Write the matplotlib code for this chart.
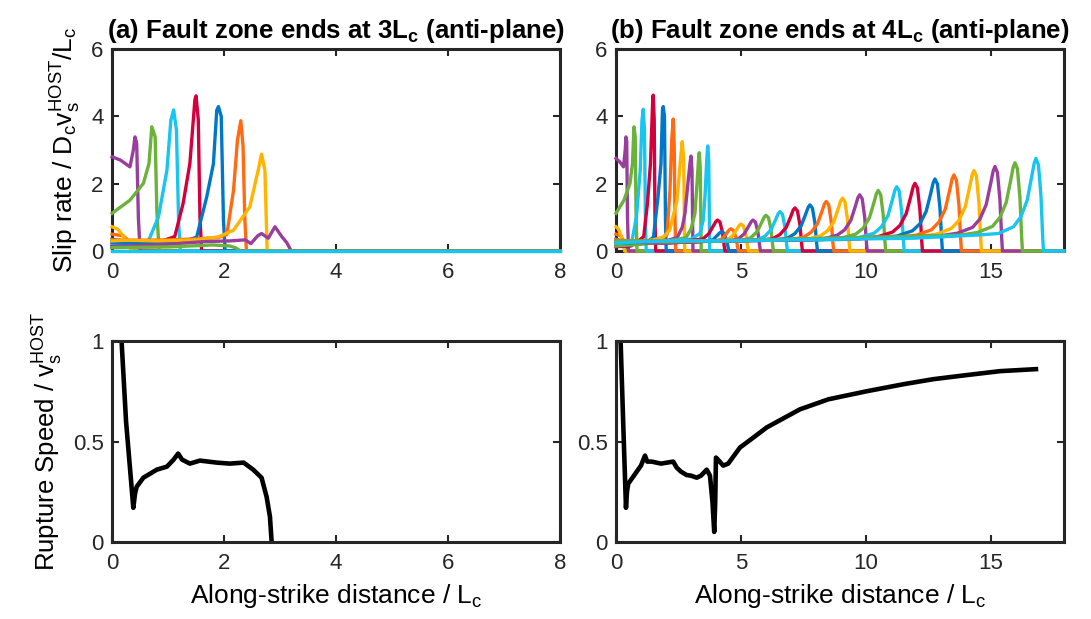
import matplotlib
matplotlib.use("Agg")
import matplotlib.pyplot as plt

plt.rcParams['font.family'] = ['Liberation Sans', 'DejaVu Sans']
plt.rcParams['mathtext.fontset'] = 'custom'
plt.rcParams['mathtext.rm'] = 'Liberation Sans'
plt.rcParams['mathtext.bf'] = 'Liberation Sans:bold'

# MATLAB-like colour order, as seen in the picture
blue, orange, yellow, purple = '#0077C8', '#FF6A13', '#FFB400', '#9A3E9E'
green, cyan, red = '#6AB23A', '#18C4F0', '#D4003C'

# ---- (a) slip-rate snapshots, fault zone ends at 3Lc ----
left_colors = [blue, orange, yellow, purple, green, cyan, red,
               blue, orange, yellow, purple, green, cyan]
left_x = [
    [0, 0.2, 0.35, 0.4, 8],
    [0, 0.2, 0.3, 0.35, 8],
    [0, 0.1, 0.2, 0.3, 0.35, 8],
    [0, 0.15, 0.32, 0.38, 0.41, 0.44, 0.47, 0.5, 8],
    [0, 0.32, 0.56, 0.66, 0.71, 0.77, 0.8, 0.84, 8],
    [0, 0.4, 0.65, 0.83, 0.98, 1.05, 1.10, 1.15, 1.19, 1.22, 8],
    [0, 0.6, 0.9, 1.12, 1.27, 1.39, 1.48, 1.50, 1.54, 1.57, 1.6, 8],
    [0, 0.8, 1.3, 1.51, 1.69, 1.81, 1.87, 1.90, 1.95, 1.99, 2.02, 8],
    [0, 0.5, 1.0, 1.5, 1.9, 2.05, 2.17, 2.24, 2.30, 2.34, 2.37, 2.40, 8],
    [0, 0.25, 0.8, 1.5, 1.9, 2.17, 2.46, 2.61, 2.67, 2.73, 2.77, 8],
    [0, 1.0, 1.66, 2.1, 2.38, 2.48, 2.6, 2.67, 2.79, 2.91, 3.03, 3.12, 3.2, 8],
    [0, 1.0, 1.8, 2.1, 2.2, 2.3, 8],
    [0, 8],
]
left_y = [
    [0.35, 0.3, 0.2, 0, 0],
    [0.5, 0.45, 0.3, 0, 0],
    [0.72, 0.65, 0.45, 0.15, 0, 0],
    [2.8, 2.7, 2.5, 3.0, 3.39, 3.2, 1.0, 0, 0],
    [1.12, 1.51, 2.01, 2.6, 3.69, 3.39, 1.2, 0, 0],
    [0.22, 0.2, 0.3, 1.02, 2.4, 3.88, 4.19, 3.6, 0.8, 0, 0],
    [0.13, 0.15, 0.3, 0.43, 1.42, 2.6, 4.5, 4.61, 3.9, 1.0, 0, 0],
    [0.25, 0.22, 0.3, 0.41, 1.6, 2.59, 4.18, 4.29, 4.0, 0.9, 0, 0],
    [0.33, 0.32, 0.33, 0.36, 0.4, 0.49, 1.81, 3.3, 3.87, 3.1, 1.0, 0, 0],
    [0.3, 0.32, 0.3, 0.33, 0.42, 0.62, 1.31, 2.4, 2.88, 2.4, 0, 0],
    [0.12, 0.2, 0.28, 0.3, 0.33, 0.22, 0.45, 0.52, 0.38, 0.72, 0.43, 0.25, 0, 0],
    [0.1, 0.12, 0.18, 0.15, 0.1, 0, 0],
    [0, 0],
]

# ---- (b) slip-rate snapshots, fault zone ends at 4Lc ----
right_colors = [blue, orange, yellow, purple, green, cyan, red] * 5
right_colors = right_colors[:34]
right_x = [
    [0, 0.2, 0.35, 0.4, 17.9],
    [0, 0.2, 0.3, 0.35, 17.9],
    [0, 0.1, 0.2, 0.3, 0.35, 17.9],
    [0, 0.15, 0.3, 0.37, 0.40, 0.43, 0.46, 0.5, 17.9],
    [0, 0.32, 0.56, 0.66, 0.72, 0.77, 0.8, 0.84, 17.9],
    [0, 0.4, 0.64, 0.82, 0.97, 1.04, 1.09, 1.14, 1.18, 1.21, 17.9],
    [0, 0.6, 0.9, 1.11, 1.26, 1.38, 1.47, 1.49, 1.53, 1.56, 1.59, 17.9],
    [0, 0.8, 1.3, 1.5, 1.68, 1.8, 1.86, 1.89, 1.94, 1.98, 2.01, 17.9],
    [0, 0.5, 1.0, 1.5, 1.89, 2.04, 2.16, 2.23, 2.29, 2.33, 2.36, 2.39, 17.9],
    [0, 0.8, 1.5, 1.9, 2.15, 2.44, 2.58, 2.65, 2.71, 2.75, 17.9],
    [0, 1.0, 2.0, 2.45, 2.65, 2.76, 2.89, 2.96, 3.0, 3.04, 3.08, 17.9],
    [0, 1.0, 2.0, 2.8, 3.0, 3.16, 3.25, 3.3, 3.33, 3.37, 3.41, 17.9],
    [0, 1.0, 2.0, 3.0, 3.36, 3.49, 3.56, 3.63, 3.67, 3.71, 3.75, 17.9],
    [0, 2.0, 3.46, 3.71, 3.89, 3.99, 4.06, 4.16, 4.26, 4.33, 4.36, 17.9],
    [0, 2.0, 3.62, 3.87, 4.05, 4.15, 4.22, 4.32, 4.42, 4.49, 4.52, 17.9],
    [0, 2.0, 4.0, 4.25, 4.43, 4.53, 4.60, 4.70, 4.80, 4.87, 4.90, 17.9],
    [0, 2.0, 4.0, 4.4, 4.65, 4.83, 4.93, 5.00, 5.10, 5.20, 5.27, 5.30, 17.9],
    [0, 2.0, 4.0, 4.58, 4.88, 5.13, 5.31, 5.41, 5.48, 5.58, 5.68, 5.75, 5.78, 17.9],
    [0, 2.0, 4.0, 5.1, 5.4, 5.65, 5.83, 5.93, 6.0, 6.1, 6.2, 6.27, 6.3, 17.9],
    [0, 2.0, 4.0, 5.06, 5.66, 5.96, 6.21, 6.39, 6.49, 6.56, 6.66, 6.76, 6.83, 6.86, 17.9],
    [0, 2.0, 4.0, 5.66, 6.26, 6.56, 6.81, 6.99, 7.09, 7.16, 7.26, 7.36, 7.43, 7.46, 17.9],
    [0, 2.0, 4.0, 5.56, 6.26, 6.86, 7.16, 7.41, 7.59, 7.69, 7.76, 7.86, 7.96, 8.03, 8.06, 17.9],
    [0, 2.0, 4.0, 6.21, 6.91, 7.51, 7.81, 8.06, 8.24, 8.34, 8.41, 8.51, 8.61, 8.68, 8.71, 17.9],
    [0, 2.0, 4.0, 6.86, 7.56, 8.16, 8.46, 8.71, 8.89, 8.99, 9.06, 9.16, 9.26, 9.33, 9.36, 17.9],
    [0, 2.0, 4.0, 7.55, 8.25, 8.85, 9.15, 9.40, 9.58, 9.68, 9.75, 9.85, 9.95, 10.02, 10.05, 17.9],
    [0, 2.0, 4.0, 8.29, 8.99, 9.59, 9.89, 10.14, 10.32, 10.42, 10.49, 10.59, 10.69, 10.76, 10.79, 17.9],
    [0, 2.0, 4.0, 9.03, 9.73, 10.33, 10.63, 10.88, 11.06, 11.16, 11.23, 11.33, 11.43, 11.50, 11.53, 17.9],
    [0, 2.0, 4.0, 9.76, 10.46, 11.06, 11.36, 11.61, 11.79, 11.89, 11.96, 12.06, 12.16, 12.23, 12.26, 17.9],
    [0, 2.0, 4.0, 10.56, 11.26, 11.86, 12.16, 12.41, 12.59, 12.69, 12.76, 12.86, 12.96, 13.03, 13.06, 17.9],
    [0, 2.0, 4.0, 11.32, 12.02, 12.62, 12.92, 13.17, 13.35, 13.45, 13.52, 13.62, 13.72, 13.79, 13.82, 17.9],
    [0, 2.0, 4.0, 12.12, 12.82, 13.42, 13.72, 13.97, 14.15, 14.25, 14.32, 14.42, 14.52, 14.59, 14.62, 17.9],
    [0, 2.0, 4.0, 12.96, 13.66, 14.26, 14.56, 14.81, 14.99, 15.09, 15.16, 15.26, 15.36, 15.43, 15.46, 17.9],
    [0, 2.0, 4.0, 13.76, 14.46, 15.06, 15.36, 15.61, 15.79, 15.89, 15.96, 16.06, 16.16, 16.23, 16.26, 17.9],
    [0, 2.0, 4.0, 11.9, 14.60, 15.30, 15.90, 16.20, 16.45, 16.63, 16.73, 16.80, 16.90, 17.00, 17.07, 17.10, 17.9],
]
right_y = [
    [0.35, 0.3, 0.2, 0, 0],
    [0.5, 0.45, 0.3, 0, 0],
    [0.72, 0.65, 0.45, 0.15, 0, 0],
    [2.75, 2.65, 2.5, 3.0, 3.39, 3.25, 1.0, 0, 0],
    [1.12, 1.51, 2.01, 2.6, 3.69, 3.39, 1.2, 0, 0],
    [0.22, 0.2, 0.3, 1.02, 2.4, 3.88, 4.21, 3.6, 0.8, 0, 0],
    [0.13, 0.15, 0.3, 0.43, 1.42, 2.6, 4.5, 4.63, 3.9, 1.0, 0, 0],
    [0.25, 0.22, 0.3, 0.41, 1.6, 2.59, 4.18, 4.29, 4.0, 0.9, 0, 0],
    [0.33, 0.3, 0.28, 0.32, 0.38, 0.49, 1.81, 3.3, 3.92, 3.1, 1.0, 0, 0],
    [0.3, 0.28, 0.33, 0.42, 0.62, 1.5, 2.7, 3.25, 2.7, 0, 0],
    [0.22, 0.25, 0.3, 0.4, 0.7, 1.12, 2.1, 2.6, 2.82, 2.4, 0, 0],
    [0.15, 0.2, 0.28, 0.4, 0.65, 1.12, 2.1, 2.7, 2.92, 2.5, 0, 0],
    [0.25, 0.28, 0.3, 0.35, 0.52, 0.92, 1.61, 2.7, 3.12, 2.7, 0, 0],
    [0.28, 0.25, 0.35, 0.51, 0.74, 0.87, 0.92, 0.86, 0.55, 0.14, 0, 0],
    [0.22, 0.3, 0.3, 0.33, 0.46, 0.54, 0.57, 0.53, 0.34, 0.09, 0, 0],
    [0.3, 0.26, 0.3, 0.36, 0.53, 0.63, 0.66, 0.61, 0.40, 0.10, 0, 0],
    [0.25, 0.3, 0.3, 0.31, 0.44, 0.64, 0.76, 0.80, 0.74, 0.48, 0.12, 0, 0],
    [0.27, 0.24, 0.3, 0.31, 0.35, 0.51, 0.74, 0.87, 0.92, 0.86, 0.55, 0.14, 0, 0],
    [0.3, 0.27, 0.3, 0.32, 0.40, 0.58, 0.85, 1.01, 1.06, 0.99, 0.64, 0.16, 0, 0],
    [0.24, 0.3, 0.3, 0.31, 0.33, 0.44, 0.64, 0.94, 1.11, 1.17, 1.09, 0.70, 0.18, 0, 0],
    [0.28, 0.25, 0.3, 0.32, 0.36, 0.49, 0.70, 1.02, 1.22, 1.28, 1.19, 0.77, 0.19, 0, 0],
    [0.26, 0.3, 0.3, 0.31, 0.32, 0.38, 0.52, 0.75, 1.10, 1.30, 1.37, 1.27, 0.82, 0.21, 0, 0],
    [0.3, 0.26, 0.3, 0.32, 0.33, 0.41, 0.56, 0.81, 1.18, 1.40, 1.47, 1.37, 0.88, 0.22, 0, 0],
    [0.25, 0.3, 0.3, 0.33, 0.34, 0.44, 0.60, 0.86, 1.26, 1.49, 1.57, 1.46, 0.94, 0.24, 0, 0],
    [0.27, 0.24, 0.3, 0.33, 0.35, 0.47, 0.63, 0.92, 1.34, 1.59, 1.67, 1.55, 1.00, 0.25, 0, 0],
    [0.3, 0.27, 0.3, 0.34, 0.38, 0.50, 0.68, 0.99, 1.44, 1.71, 1.80, 1.67, 1.08, 0.27, 0, 0],
    [0.24, 0.3, 0.3, 0.34, 0.40, 0.53, 0.73, 1.05, 1.53, 1.81, 1.91, 1.78, 1.15, 0.29, 0, 0],
    [0.28, 0.25, 0.3, 0.36, 0.42, 0.56, 0.76, 1.11, 1.61, 1.91, 2.01, 1.87, 1.21, 0.30, 0, 0],
    [0.26, 0.3, 0.3, 0.39, 0.45, 0.60, 0.81, 1.18, 1.71, 2.03, 2.14, 1.99, 1.28, 0.32, 0, 0],
    [0.3, 0.26, 0.3, 0.41, 0.47, 0.63, 0.86, 1.24, 1.81, 2.15, 2.26, 2.10, 1.36, 0.34, 0, 0],
    [0.25, 0.3, 0.3, 0.43, 0.50, 0.67, 0.91, 1.31, 1.91, 2.27, 2.39, 2.22, 1.43, 0.36, 0, 0],
    [0.27, 0.24, 0.3, 0.45, 0.53, 0.70, 0.95, 1.38, 2.01, 2.38, 2.51, 2.33, 1.51, 0.38, 0, 0],
    [0.3, 0.27, 0.3, 0.47, 0.55, 0.73, 1.00, 1.44, 2.10, 2.49, 2.62, 2.44, 1.57, 0.39, 0, 0],
    [0.24, 0.3, 0.3, 0.38, 0.48, 0.52, 0.72, 1.02, 1.51, 2.21, 2.61, 2.75, 2.56, 1.65, 0.41, 0, 0],
]

# ---- rupture speed ----
vr_left_x = [0.15, 0.25, 0.38, 0.41, 0.44, 0.56, 0.8, 0.98, 1.1, 1.18, 1.25, 1.39,
             1.57, 1.87, 2.1, 2.35, 2.52, 2.67, 2.76, 2.82, 2.85]
vr_left_y = [1.1, 0.6, 0.17, 0.24, 0.275, 0.32, 0.36, 0.375, 0.41, 0.44, 0.41, 0.39,
             0.405, 0.395, 0.39, 0.395, 0.36, 0.32, 0.225, 0.126, 0.0]
vr_right_x = [0.16, 0.3, 0.4, 0.44, 0.49, 0.83, 1.0, 1.16, 1.25, 1.43, 1.8, 2.29,
              2.43, 2.6, 2.83, 3.0, 3.23, 3.4, 3.63, 3.76, 3.86, 3.93, 3.97, 4.0,
              4.15, 4.29, 4.49, 4.96, 5.5, 6.03, 7.36, 8.5, 10.03, 11.5, 12.69,
              14.0, 15.36, 16.8]
vr_right_y = [1.1, 0.55, 0.17, 0.25, 0.29, 0.35, 0.38, 0.43, 0.4, 0.40, 0.39, 0.40,
              0.37, 0.35, 0.333, 0.33, 0.32, 0.33, 0.36, 0.33, 0.2, 0.05, 0.2, 0.42,
              0.4, 0.38, 0.39, 0.47, 0.52, 0.57, 0.66, 0.71, 0.75, 0.785, 0.81,
              0.83, 0.85, 0.86]

titles = [r'(a) Fault zone ends at 3L$_{\bf c}$ (anti-plane)',
          r'(b) Fault zone ends at 4L$_{\bf c}$ (anti-plane)']
xlabel = r'Along-strike distance / L$\mathregular{_c}$'
ylabel_top = r'Slip rate / D$\mathregular{_c}$v$\mathregular{_s^{HOST}}$/L$\mathregular{_c}$'
ylabel_bot = r'Rupture Speed / v$\mathregular{_s^{HOST}}$'

fig = plt.figure(figsize=(10.91, 6.19), dpi=100)
ax_tl = fig.add_axes([0.1027, 0.5945, 0.4106, 0.3263])
ax_tr = fig.add_axes([0.5646, 0.5945, 0.4106, 0.3263])
ax_bl = fig.add_axes([0.1027, 0.1244, 0.4106, 0.3247])
ax_br = fig.add_axes([0.5646, 0.1244, 0.4106, 0.3247])

lw = 2.4
for xs, ys, c in zip(left_x, left_y, left_colors):
    ax_tl.plot(xs, ys, color=c, lw=lw, clip_on=False, zorder=3)
for xs, ys, c in zip(right_x, right_y, right_colors):
    ax_tr.plot(xs, ys, color=c, lw=lw, clip_on=False, zorder=3)

ax_bl.plot(vr_left_x, vr_left_y, color='black', lw=3.3)
ax_br.plot(vr_right_x, vr_right_y, color='black', lw=3.3)

for ax in [ax_tl, ax_tr, ax_bl, ax_br]:
    for s in ax.spines.values():
        s.set_linewidth(2.2)
        s.set_color('#262626')
    ax.tick_params(direction='in', top=True, right=True, length=5, width=1.5,
                   labelsize=16, pad=6, colors='#262626')
    ax.tick_params(axis='x', pad=8)

for ax in [ax_tl, ax_bl]:
    ax.set_xlim(0, 8)
    ax.set_xticks([0, 2, 4, 6, 8])
for ax in [ax_tr, ax_br]:
    ax.set_xlim(0, 17.92)
    ax.set_xticks([0, 5, 10, 15])

for ax in [ax_tl, ax_tr]:
    ax.set_ylim(0, 6)
    ax.set_yticks([0, 2, 4, 6])
for ax in [ax_bl, ax_br]:
    ax.set_ylim(0, 1)
    ax.set_yticks([0, 0.5, 1])
    ax.set_yticklabels(['0', '0.5', '1'])
    ax.set_xlabel(xlabel, fontsize=19, labelpad=6)

ax_tl.set_ylabel(ylabel_top, fontsize=19, labelpad=6)
ax_bl.set_ylabel(ylabel_bot, fontsize=18.5, labelpad=6)

for ax, t in zip([ax_tl, ax_tr], titles):
    ax.set_title(t, fontsize=18.5, fontweight='bold', pad=8,
                 family=['Liberation Sans Narrow', 'Liberation Sans'])

fig.savefig('out.png', dpi=100)
